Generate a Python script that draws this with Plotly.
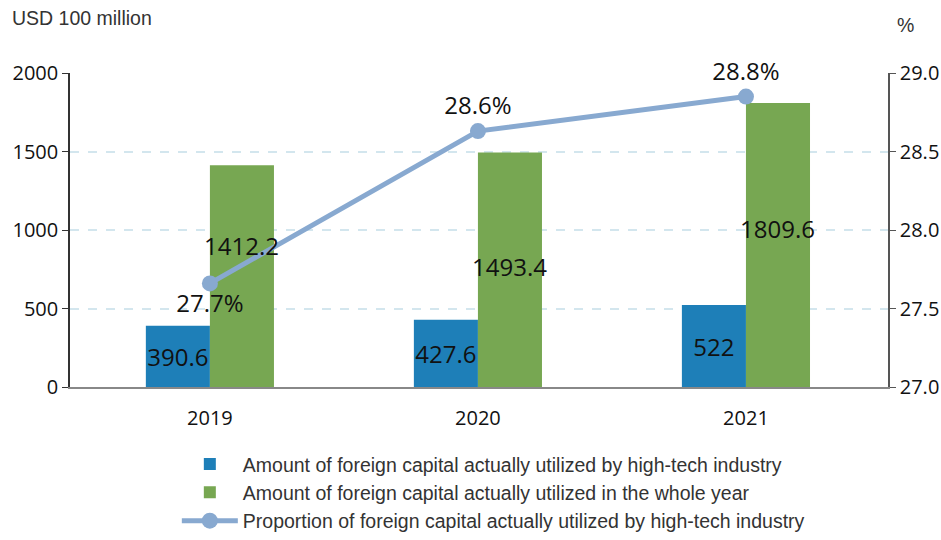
import plotly.graph_objects as go

years = ["2019", "2020", "2021"]
hightech = [390.6, 427.6, 522.0]
whole_year = [1412.2, 1493.4, 1809.6]
proportion = [27.66, 28.63, 28.85]
proportion_labels = ["27.7%", "28.6%", "28.8%"]
hightech_labels = ["390.6", "427.6", "522"]
whole_labels = ["1412.2", "1493.4", "1809.6"]

# pixel nudges for the whole-year value labels (relative to bar middle)
whole_label_yshift = [31, 3, 16]

label_font = dict(family="Open Sans, Noto Sans, sans-serif", size=24, color="#111111")
tick_font = dict(family="Open Sans, Noto Sans, sans-serif", size=20, color="#111111")
text_font = dict(family="Liberation Sans, Arial, sans-serif", size=19.5, color="#333333")

fig = go.Figure()
fig.add_trace(go.Bar(
    x=years, y=hightech, name="Amount of foreign capital actually utilized by high-tech industry",
    marker=dict(color="#1e7fb8", line=dict(width=0)),
    text=hightech_labels, textposition="inside", insidetextanchor="middle",
    constraintext="none", textfont=label_font, textangle=0, cliponaxis=False,
))
fig.add_trace(go.Bar(
    x=years, y=whole_year, name="Amount of foreign capital actually utilized in the whole year",
    marker=dict(color="#77a752", line=dict(width=0)),
))
fig.add_trace(go.Scatter(
    x=years, y=proportion, yaxis="y2", mode="lines+markers+text",
    name="Proportion of foreign capital actually utilized by high-tech industry",
    line=dict(color="#88a9d0", width=5),
    marker=dict(color="#88a9d0", size=16),
    text=proportion_labels, textposition=["bottom center", "top center", "top center"],
    textfont=label_font, cliponaxis=False,
))

annotations = [
    dict(text="USD 100 million", xref="paper", yref="paper", x=-0.073, y=1.175,
         xanchor="left", yanchor="middle", showarrow=False, font=text_font),
    dict(text="%", xref="paper", yref="paper", x=1.008, y=1.153,
         xanchor="left", yanchor="middle", showarrow=False, font=text_font),
]
for i, (val, lab, ys) in enumerate(zip(whole_year, whole_labels, whole_label_yshift)):
    annotations.append(dict(text=lab, x=i, y=val / 2, xref="x", yref="y",
                            xshift=32, yshift=ys, showarrow=False, font=label_font,
                            xanchor="center", yanchor="middle"))

fig.update_layout(
    width=941, height=540,
    margin=dict(l=70, r=53, t=73, b=153, autoexpand=False),
    paper_bgcolor="white", plot_bgcolor="white",
    barmode="group", bargap=0.522, bargroupgap=0,
    showlegend=True,
    legend=dict(x=0.1306, y=-0.184, xanchor="left", yanchor="top",
                font=text_font, traceorder="normal", tracegroupgap=0,
                itemwidth=56, bgcolor="rgba(0,0,0,0)"),
    xaxis=dict(type="category", range=[-0.522, 2.53], showgrid=False, showline=True,
               linecolor="#888888", linewidth=1.5, ticks="", tickfont=tick_font,
               zeroline=False, automargin=False, ticklabelstandoff=12),
    yaxis=dict(range=[0, 2000], tickvals=[0, 500, 1000, 1500, 2000], showgrid=True,
               gridcolor="#d3e6ee", griddash="dash", gridwidth=1.5, showline=True,
               linecolor="#333333", linewidth=1.5, ticks="outside", ticklen=6,
               tickcolor="#333333", tickfont=tick_font, zeroline=False, automargin=False),
    yaxis2=dict(range=[27.0, 29.0], tickvals=[27.0, 27.5, 28.0, 28.5, 29.0],
                tickformat=".1f", overlaying="y", side="right", showgrid=False,
                showline=True, linecolor="#555555", linewidth=1.5, ticks="outside",
                ticklen=6, tickcolor="#555555", tickfont=tick_font, zeroline=False,
                automargin=False),
    annotations=annotations,
)

fig.write_html("out.html", config={"displayModeBar": False},
               post_script="document.body.style.margin='0';")
